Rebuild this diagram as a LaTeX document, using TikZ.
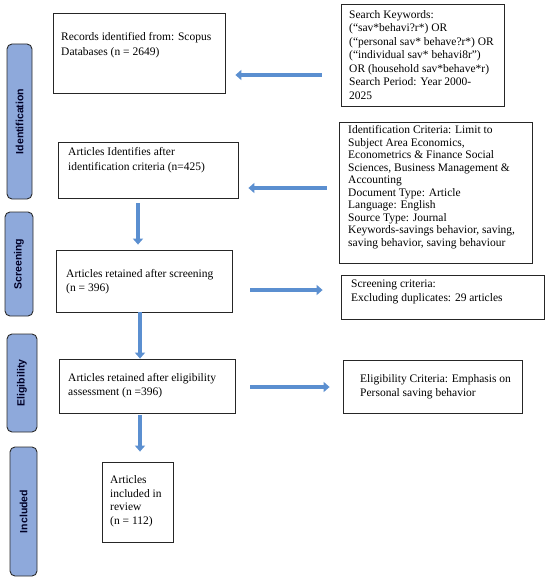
\documentclass[tikz,border=0pt]{standalone}
\usepackage{fontspec}
\setmainfont{Liberation Serif}
\newfontfamily\labfont{Liberation Sans}
\usetikzlibrary{arrows.meta}
\definecolor{sidefill}{HTML}{8EA9DB}
\definecolor{sideedge}{HTML}{2B2B2B}
\definecolor{arrowblue}{HTML}{5B8FD0}
\tikzset{
  box/.style={draw=black!85, line width=0.8pt, inner sep=0pt, rectangle},
  txt/.style={anchor=west, inner sep=0pt, align=left, font=\fontsize{11.5}{13.5}\selectfont},
  sidelab/.style={draw=sideedge, fill=sidefill, line width=0.9pt, rounded corners=5pt, rotate=90,
     inner sep=0pt, font=\labfont\bfseries\fontsize{10.5}{12}\selectfont, text=black!85!blue},
  barrow/.style={draw=arrowblue, line width=4pt, -{Triangle[width=10pt,length=6pt]}}
}
\begin{document}
\begin{tikzpicture}[x=1pt,y=-1pt]
\useasboundingbox (0,0) rectangle (550,580);
% side labels
\node[sidelab, minimum width=155pt, minimum height=25pt] (sid) at (19.5,121.5) {Identification};
\node[sidelab, minimum width=104pt, minimum height=28pt] (sscr) at (19,264) {Screening};
\node[sidelab, minimum width=98pt, minimum height=30pt] (selig) at (22,383) {Eligibility};
\node[sidelab, minimum width=129pt, minimum height=27pt] (sinc) at (23.5,511.5) {Included};
% boxes
\node[box, minimum width=172pt, minimum height=80pt] (rec) at (139,53) {};
\node[box, minimum width=163pt, minimum height=102pt] (srch) at (422.5,55) {};
\node[box, minimum width=193pt, minimum height=141pt] (idc) at (435.5,192.5) {};
\node[box, minimum width=180pt, minimum height=56pt] (art1) at (148,170) {};
\node[box, minimum width=176pt, minimum height=62pt] (scr) at (144,281) {};
\node[box, minimum width=203pt, minimum height=44pt] (scrc) at (442.5,297) {};
\node[box, minimum width=176pt, minimum height=54pt] (elig) at (147,386) {};
\node[box, minimum width=179pt, minimum height=53pt] (elc) at (432.5,386.5) {};
\node[box, minimum width=71pt, minimum height=80pt] (inc) at (137.5,502) {};
% texts
\node[txt, font=\fontsize{11.5}{15}\selectfont] (trec) at (61,45.5) {Records identified from: Scopus\\Databases (n = 2649)};
\node[txt] (tsrch) at (349,55) {Search Keywords:\\(“sav*behavi?r*) OR\\(“personal sav* behave?r*) OR\\(“individual sav* behavi8r”)\\OR (household sav*behave*r)\\Search Period: Year 2000-\\2025};
\node[txt, font=\fontsize{11.5}{12.5}\selectfont] (tidc) at (348,187) {Identification Criteria: Limit to\\Subject Area Economics,\\Econometrics \& Finance Social\\Sciences, Business Management \&\\Accounting\\Document Type: Article\\Language: English\\Source Type: Journal\\Keywords-savings behavior, saving,\\saving behavior, saving behaviour};
\node[txt, font=\fontsize{11.5}{15}\selectfont] (tart1) at (68,160.5) {Articles Identifies after\\identification criteria (n=425)};
\node[txt, font=\fontsize{11.5}{14}\selectfont] (tscr) at (66,281.5) {Articles retained after screening\\(n = 396)};
\node[txt, font=\fontsize{11.5}{14}\selectfont] (tscrc) at (351,292) {Screening criteria:\\Excluding duplicates: 29 articles};
\node[txt, font=\fontsize{11.5}{14}\selectfont] (telig) at (68,386) {Articles retained after eligibility\\assessment (n =396)};
\node[txt, font=\fontsize{11.5}{14}\selectfont] (telc) at (360,386.5) {Eligibility Criteria: Emphasis on\\Personal saving behavior};
\node[txt] (tinc) at (110,501) {Articles\\included in\\review\\(n = 112)};
% helper coordinates for arrow rows/columns
\coordinate (r1) at (0,75);
\coordinate (r2) at (0,188);
\coordinate (r3) at (0,290);
\coordinate (r4) at (0,387);
\coordinate (c1) at (138,0);
\coordinate (c2) at (140,0);
% arrows
\draw[barrow, shorten <=19pt, shorten >=10pt] (srch.west |- r1) -- (rec.east |- r1);
\draw[barrow, shorten <=12pt, shorten >=10pt] (idc.west |- r2) -- (art1.east |- r2);
\draw[barrow, shorten <=5pt, shorten >=5pt] (c1 |- art1.south) -- (c1 |- scr.north);
\draw[barrow, shorten <=18pt, shorten >=18pt] (scr.east |- r3) -- (scrc.west |- r3);
\draw[barrow, shorten <=0pt, shorten >=0pt] (c2 |- scr.south) -- (c2 |- elig.north);
\draw[barrow, shorten <=15pt, shorten >=13pt] (elig.east |- r4) -- (elc.west |- r4);
\draw[barrow, shorten <=2pt, shorten >=10pt] (c2 |- elig.south) -- (c2 |- inc.north);
\end{tikzpicture}
\end{document}
